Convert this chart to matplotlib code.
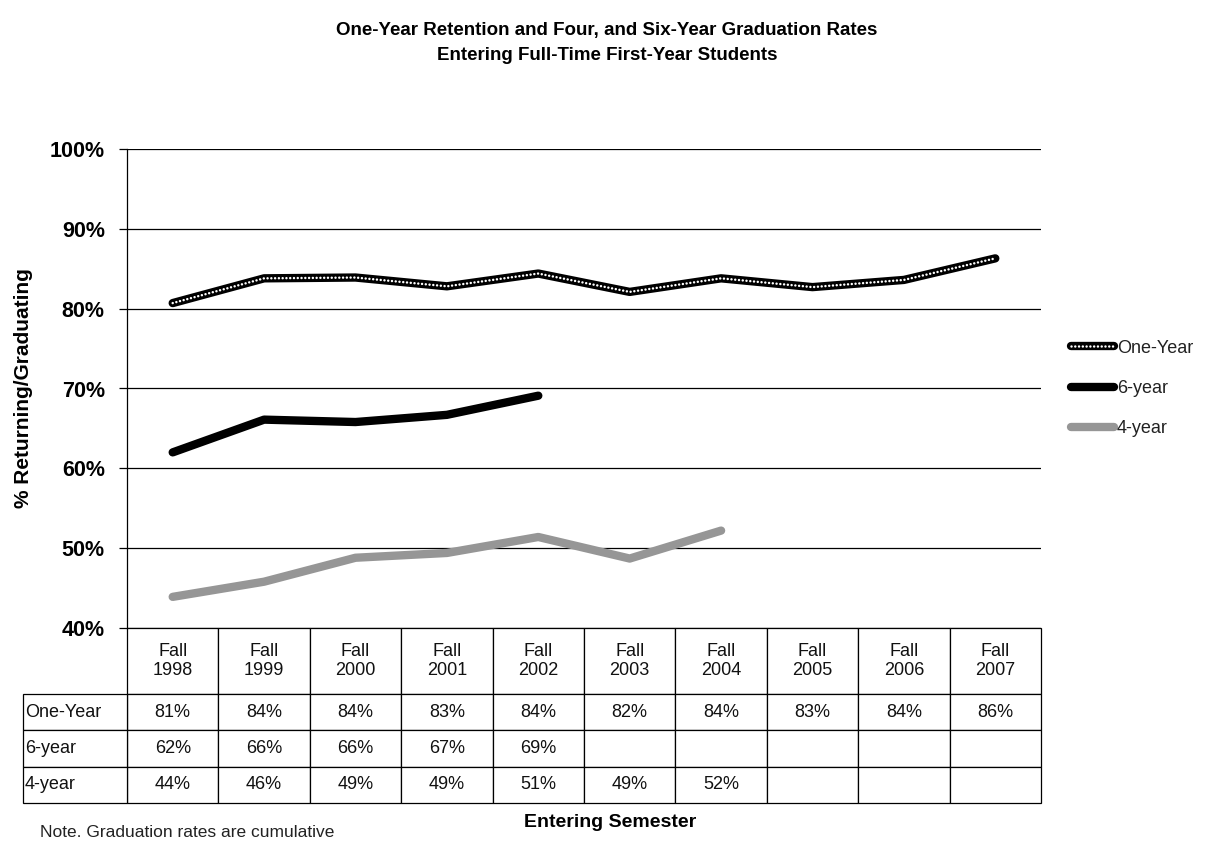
import numpy as np
import matplotlib
matplotlib.use('Agg')
import matplotlib.pyplot as plt

plt.rcParams['font.family'] = ['Liberation Sans', 'DejaVu Sans']

# --- datos ---
semestres = ['Fall\n1998', 'Fall\n1999', 'Fall\n2000', 'Fall\n2001', 'Fall\n2002',
             'Fall\n2003', 'Fall\n2004', 'Fall\n2005', 'Fall\n2006', 'Fall\n2007']
one_year = [80.7, 83.8, 83.9, 82.8, 84.4, 82.1, 83.8, 82.7, 83.6, 86.3]
six_year = [62.0, 66.1, 65.8, 66.7, 69.1, np.nan, np.nan, np.nan, np.nan, np.nan]
four_year = [43.9, 45.8, 48.8, 49.4, 51.4, 48.7, 52.2, np.nan, np.nan, np.nan]
series_names = ['One-Year', '6-year', '4-year']

def fmt(v):
    return '' if np.isnan(v) else f'{v:.0f}%'

W, H = 1217, 846
fig = plt.figure(figsize=(W / 100, H / 100), dpi=100)
ax = fig.add_axes([127 / W, 1 - 628 / H, (1041 - 127) / W, (628 - 149) / H])

x = np.arange(len(semestres))

# One-Year: línea negra gruesa con puntos blancos encima
l1a, = ax.plot(x, one_year, color='black', lw=6, solid_capstyle='round', solid_joinstyle='round', zorder=3)
l1b, = ax.plot(x, one_year, color='white', lw=1.8, linestyle=(0, (0.01, 1.5)), dash_capstyle='round', zorder=4)
l2, = ax.plot(x, six_year, color='black', lw=6, solid_capstyle='round', solid_joinstyle='round', zorder=3)
l3, = ax.plot(x, four_year, color='#969696', lw=6, solid_capstyle='round', solid_joinstyle='round', zorder=3)

ax.set_xlim(-0.5, len(semestres) - 0.5)
ax.set_ylim(40, 100)
ax.set_yticks(np.arange(40, 101, 10))
ax.set_yticklabels([f'{v}%' for v in range(40, 101, 10)], fontsize=15.5, fontweight='bold')
ax.set_xticks([])
ax.yaxis.grid(True, color='black', lw=0.9)
ax.set_axisbelow(True)
ax.tick_params(axis='y', length=6, width=0.9, pad=10)
for s in ['top', 'right', 'bottom']:
    ax.spines[s].set_visible(False)
ax.spines['left'].set_linewidth(0.9)

ax.set_ylabel('% Returning/Graduating', fontsize=15, fontweight='bold', labelpad=12)

# --- tabla de datos bajo el eje ---
alto_head = 66
alto_fila = 36.3
alto_total = alto_head + 3 * alto_fila
ax_h = 628 - 149
cells = [[fmt(v) for v in serie] for serie in (one_year, six_year, four_year)]
tab = ax.table(cellText=cells, colLabels=semestres, cellLoc='center', loc='bottom',
               bbox=[0, -alto_total / ax_h, 1, alto_total / ax_h])
# etiquetas de fila en una tabla aparte, a la izquierda
tab_lbl = ax.table(cellText=[[n] for n in series_names], cellLoc='left', loc='bottom',
                   bbox=[-104 / 914, -alto_total / ax_h, 104 / 914, 3 * alto_fila / ax_h])
for t in (tab, tab_lbl):
    t.auto_set_font_size(False)
    for (r, c), cell in t.get_celld().items():
        cell.set_linewidth(0.9)
        cell.set_edgecolor('black')
        cell.set_text_props(fontsize=13, color='#111111')
        if t is tab:
            cell.set_height(alto_head if r == 0 else alto_fila)
for cell in tab_lbl.get_celld().values():
    cell.PAD = 0.02

leg = ax.legend([(l1a, l1b), l2, l3], series_names, loc='center left',
                bbox_to_anchor=(1.015, 0.50), frameon=False, fontsize=13,
                handlelength=2.4, handletextpad=0.15, labelspacing=1.3)
for t in leg.get_texts():
    t.set_color('#222222')

fig.text(607 / W, 1 - 43 / H,
         'One-Year Retention and Four, and Six-Year Graduation Rates\nEntering Full-Time First-Year Students',
         ha='center', va='center', fontsize=13.5, fontweight='bold', linespacing=1.6)
fig.text(610 / W, 1 - 822 / H, 'Entering Semester', ha='center', va='center',
         fontsize=14, fontweight='bold')
fig.text(40 / W, 1 - 832 / H, 'Note. Graduation rates are cumulative', ha='left', va='center',
         fontsize=12.5, color='#222222')

fig.savefig('out.png', dpi=100)
